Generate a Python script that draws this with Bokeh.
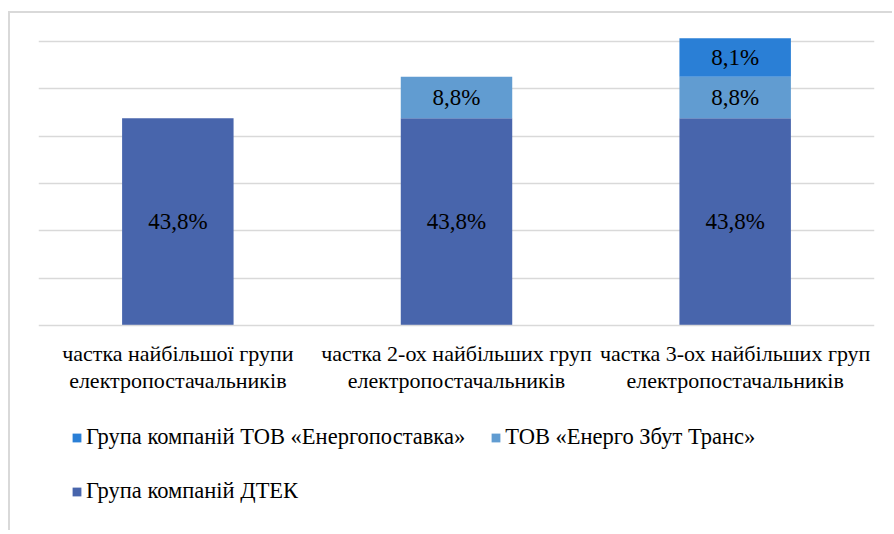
from bokeh.plotting import figure
from bokeh.models import ColumnDataSource, FixedTicker, LabelSet, Legend, LegendItem
from bokeh.embed import file_html
from bokeh.resources import INLINE

categories = [
    "частка найбільшої групи\nелектропостачальників",
    "частка 2-ох найбільших груп\nелектропостачальників",
    "частка 3-ох найбільших груп\nелектропостачальників",
]
dtek = [43.8, 43.8, 43.8]
zbut = [0.0, 8.8, 8.8]
postavka = [0.0, 0.0, 8.1]
series_names = [
    "Група компаній ДТЕК",
    "ТОВ «Енерго Збут Транс»",
    "Група компаній ТОВ «Енергопоставка»",
]
colors = ["#4865AC", "#619CD1", "#2A7FD6"]
grid_ticks = [10, 20, 30, 40, 50, 60]

FONT = "Liberation Serif"

src = ColumnDataSource(dict(cat=categories, dtek=dtek, zbut=zbut, postavka=postavka))

px_per_unit = 284 / 60
y_top = 61.5
y_bottom = y_top - 498 / px_per_unit

p = figure(
    x_range=categories, y_range=(y_bottom, y_top),
    width=884, height=519,
    output_backend="svg", toolbar_location=None,
    y_axis_location=None,
    min_border_left=28, min_border_right=20, min_border_top=21, min_border_bottom=0,
)
p.margin = (11, 0, 0, 8)
p.styles = {"border-top": "2px solid #d9d9d9", "border-left": "2px solid #d9d9d9"}
p.outline_line_color = None

rs = p.vbar_stack(["dtek", "zbut", "postavka"], x="cat", width=0.4, color=colors,
                  line_color=None, source=src)

p.xgrid.grid_line_color = None
p.ygrid.ticker = FixedTicker(ticks=grid_ticks)
p.ygrid.grid_line_color = "#d9d9d9"
p.ygrid.grid_line_width = 1.5

ax = p.xaxis[0]
ax.fixed_location = 0
ax.axis_line_color = "#d9d9d9"
ax.axis_line_width = 1.5
ax.major_tick_line_color = None
ax.minor_tick_line_color = None
ax.major_label_text_font = FONT
ax.major_label_text_font_size = "22px"
ax.major_label_text_line_height = 1.1
ax.major_label_text_color = "#000000"
ax.major_label_standoff = 9

lx, ly, lt = [], [], []
for i, c in enumerate(categories):
    base = 0.0
    for vals in (dtek, zbut, postavka):
        v = vals[i]
        if v > 0:
            lx.append(c)
            ly.append(base + v / 2)
            lt.append(f"{v:.1f}".replace(".", ",") + "%")
        base += v
lsrc = ColumnDataSource(dict(x=lx, y=ly, t=lt))
labels = LabelSet(x="x", y="y", text="t", source=lsrc, text_align="center",
                  text_baseline="middle", text_font=FONT, text_font_size="23px",
                  text_color="#000000")
p.add_layout(labels)

def make_legend(items, loc):
    return Legend(items=items, location=loc, orientation="horizontal",
                  label_text_font=FONT, label_text_font_size="22.5px",
                  label_text_color="#000000", glyph_width=11, glyph_height=11,
                  label_standoff=4, spacing=25, padding=0, margin=0,
                  border_line_color=None, background_fill_alpha=0)

leg1 = make_legend([LegendItem(label=series_names[2], renderers=[rs[2]]),
                    LegendItem(label=series_names[1], renderers=[rs[1]])], (33, 82))
leg2 = make_legend([LegendItem(label=series_names[0], renderers=[rs[0]])], (33, 28))
p.add_layout(leg1, "center")
p.add_layout(leg2, "center")

open("out.html", "w").write(file_html(p, INLINE))
